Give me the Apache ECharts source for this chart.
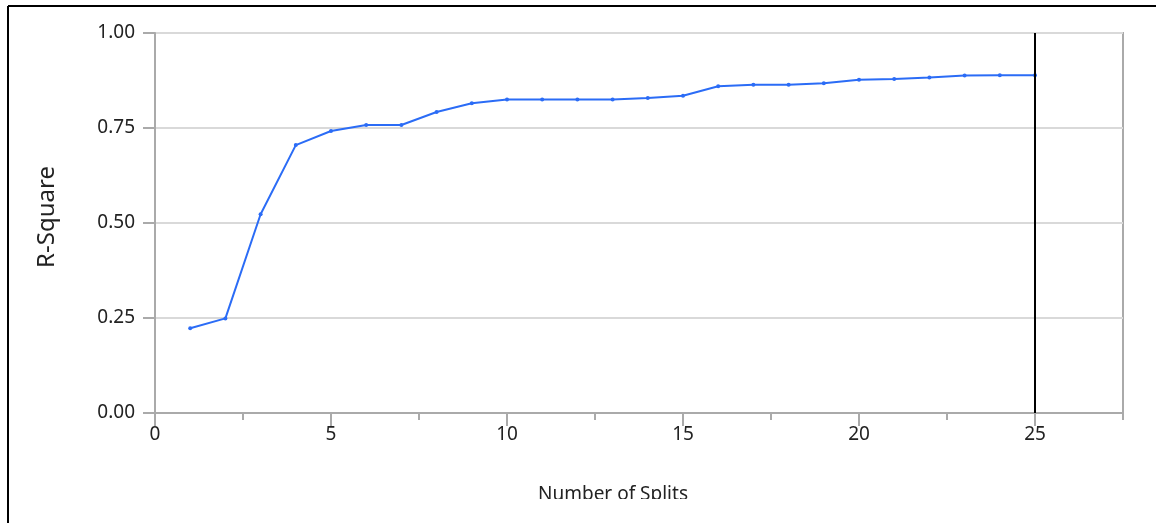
<!DOCTYPE html>
<html>
<head>
<meta charset="utf-8">
<script src="https://cdn.jsdelivr.net/npm/echarts@6/dist/echarts.min.js"></script>
<style>
html,body{margin:0;padding:0;background:#fff;}
#c{width:1156px;height:523px;}
</style>
</head>
<body>
<div id="c"></div>
<script>
const splits = [1,2,3,4,5,6,7,8,9,10,11,12,13,14,15,16,17,18,19,20,21,22,23,24,25];
const rSquare = [0.223,0.249,0.523,0.705,0.742,0.758,0.758,0.792,0.815,0.825,0.825,0.825,0.825,0.829,0.835,0.860,0.864,0.864,0.868,0.877,0.879,0.883,0.888,0.889,0.889];
const xTickLabels = [0,5,10,15,20,25];
const yTickLabels = [0,0.25,0.5,0.75,1];
const selectedSplit = 25;

const chart = echarts.init(document.getElementById('c'), null, {renderer:'canvas'});
const font = "'Noto Sans', 'Open Sans', sans-serif";
const axisGray = '#aaaaaa';

chart.setOption({
  animation: false,
  backgroundColor: '#ffffff',
  grid: { left: 155, right: 33, top: 33, bottom: 110, show: true, borderColor: axisGray, borderWidth: 2 },
  xAxis: [{
    type: 'value', min: 0, max: 27.5, interval: 2.5,
    axisLine: { show: true, lineStyle: { color: axisGray, width: 2 } },
    axisTick: { show: true, length: 7, lineStyle: { color: axisGray, width: 2 } },
    axisLabel: { customValues: xTickLabels, color: '#222', fontFamily: font, fontSize: 19, margin: 12 },
    splitLine: { show: false }
  },{
    type: 'value', min: 0, max: 27.5, position: 'bottom',
    axisLine: { show: false },
    axisTick: { show: true, length: 13, customValues: xTickLabels, lineStyle: { color: axisGray, width: 2 } },
    axisLabel: { show: false },
    splitLine: { show: false }
  }],
  yAxis: {
    type: 'value', min: 0, max: 1, interval: 0.25,
    axisLine: { show: true, lineStyle: { color: axisGray, width: 2 } },
    axisTick: { show: true, length: 12, lineStyle: { color: axisGray, width: 2 } },
    axisLabel: { customValues: yTickLabels, formatter: v => v.toFixed(2), color: '#222', fontFamily: font, fontSize: 19, margin: 20 },
    splitLine: { show: true, lineStyle: { color: '#d9d9d9', width: 2 } }
  },
  series: [{
    type: 'line',
    data: splits.map((s, i) => [s, rSquare[i]]),
    symbol: 'circle', symbolSize: 4,
    lineStyle: { color: '#2b6cf6', width: 2 },
    itemStyle: { color: '#2b6cf6' },
    markLine: {
      silent: true, symbol: 'none', label: { show: false },
      lineStyle: { color: '#000', width: 2, type: 'solid' },
      data: [{ xAxis: selectedSplit }]
    },
    z: 3
  }],
  graphic: [
    { type: 'text', x: 47, y: 217, rotation: Math.PI / 2, z: 10,
      style: { text: 'R-Square', fill: '#222', font: "24px 'Noto Sans', 'Open Sans', sans-serif", align: 'center', verticalAlign: 'middle' } },
    { type: 'text', left: 538, top: 485, z: 10,
      style: { text: 'Number of Splits', fill: '#222', font: "19px 'Noto Sans', 'Open Sans', sans-serif" } },
    { type: 'rect', shape: { x: 10, y: 499, width: 1146, height: 30 }, style: { fill: '#fff' }, z: 20 },
    { type: 'line', shape: { x1: 8, y1: 6, x2: 1156, y2: 6 }, style: { stroke: '#000', lineWidth: 2 }, z: 30 },
    { type: 'line', shape: { x1: 8, y1: 6, x2: 8, y2: 523 }, style: { stroke: '#000', lineWidth: 2 }, z: 30 }
  ]
});
</script>
</body>
</html>
